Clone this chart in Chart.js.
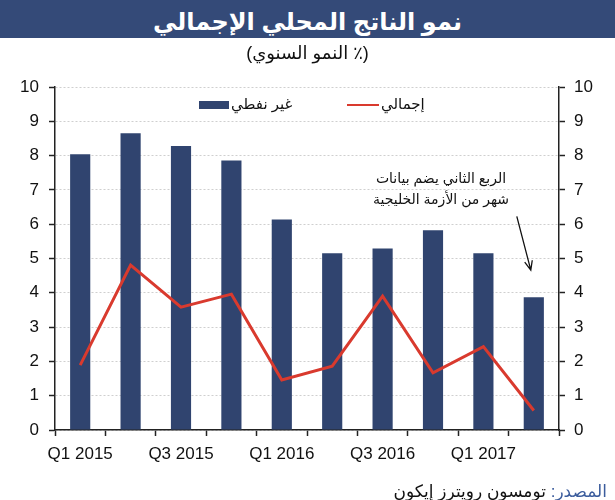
<!DOCTYPE html>
<html>
<head>
<meta charset="utf-8">
<script src="https://cdn.jsdelivr.net/npm/chart.js@4"></script>
<style>
  body { margin: 0; background: #fff; }
  #wrap { position: relative; width: 615px; height: 500px; overflow: hidden; font-family: "Liberation Sans", "DejaVu Sans", sans-serif; }
  #chart { position: absolute; left: 0; top: 0; }
  #title { position: absolute; left: 0; top: 0; width: 615px; height: 38px; background: #344a78; color: #fff;
           font-weight: bold; font-size: 24px; line-height: 44px; text-align: center; }
  #sub { position: absolute; left: 0; top: 42px; width: 615px; text-align: center; font-size: 18px; color: #111; }
  #src { position: absolute; right: 8px; top: 481px; font-size: 17px; color: #111; white-space: nowrap; }
  #src span { color: #3b5c9c; }
</style>
</head>
<body>
<div id="wrap">
  <canvas id="chart" width="615" height="500"></canvas>
  <div id="title" dir="rtl">نمو الناتج المحلي الإجمالي</div>
  <div id="sub" dir="rtl">(٪ النمو السنوي)</div>
  <div id="src" dir="rtl"><span>المصدر:</span> تومسون رويترز إيكون</div>
</div>
<script>
(function () {
  'use strict';

  const quarters = ['Q1 2015', 'Q2 2015', 'Q3 2015', 'Q4 2015', 'Q1 2016',
                    'Q2 2016', 'Q3 2016', 'Q4 2016', 'Q1 2017', 'Q2 2017'];
  const nonOil = [8.04, 8.65, 8.28, 7.86, 6.14, 5.15, 5.29, 5.82, 5.15, 3.87];
  const total = [1.89, 4.81, 3.58, 3.96, 1.46, 1.86, 3.90, 1.67, 2.43, 0.57];
  const yMin = 0, yMax = 10, yStep = 1;
  const nonOilLabel = 'غير نفطي';
  const totalLabel = 'إجمالي';
  const noteLines = ['الربع الثاني يضم بيانات', 'شهر من الأزمة الخليجية'];

  const NAVY = '#30446f';
  const RED = '#d93a2e';
  const AXIS = '#222';
  const FONT = '"Liberation Sans", "DejaVu Sans", sans-serif';

  const overlay = {
    id: 'overlay',
    afterDatasetsDraw(chart) {
      const ctx = chart.ctx, a = chart.chartArea;
      const x = chart.scales.x, y = chart.scales.y;
      ctx.save();
      // legend
      const cx = (a.left + a.right) / 2, ly = a.top + 18;
      ctx.font = '15px ' + FONT;
      ctx.textBaseline = 'middle';
      ctx.textAlign = 'left';
      ctx.fillStyle = NAVY;
      ctx.fillRect(cx - 108, ly - 4, 30, 8);
      ctx.fillStyle = '#111';
      ctx.fillText(nonOilLabel, cx - 76, ly);
      ctx.strokeStyle = RED;
      ctx.lineWidth = 2;
      ctx.beginPath();
      ctx.moveTo(cx + 40, ly); ctx.lineTo(cx + 72, ly);
      ctx.stroke();
      ctx.fillText(totalLabel, cx + 74, ly);

      // note
      ctx.font = '14px ' + FONT;
      ctx.textAlign = 'center';
      const nx = x.getPixelForValue(7) + 8;
      ctx.fillText(noteLines[0], nx, y.getPixelForValue(7.3));
      ctx.fillText(noteLines[1], nx, y.getPixelForValue(6.7));

      // arrow to last bar
      const x0 = x.getPixelForValue(9) - 17, y0 = y.getPixelForValue(6.23);
      const x1 = x.getPixelForValue(9) - 3, y1 = y.getPixelForValue(4.66);
      const ang = Math.atan2(y1 - y0, x1 - x0);
      ctx.strokeStyle = '#111';
      ctx.lineWidth = 1.3;
      ctx.beginPath();
      ctx.moveTo(x0, y0); ctx.lineTo(x1, y1);
      ctx.moveTo(x1 - 10 * Math.cos(ang - 0.4), y1 - 10 * Math.sin(ang - 0.4));
      ctx.lineTo(x1, y1);
      ctx.lineTo(x1 - 10 * Math.cos(ang + 0.4), y1 - 10 * Math.sin(ang + 0.4));
      ctx.stroke();
      ctx.restore();
    }
  };

  const tickFont = { family: FONT, size: 17 };

  new Chart(document.getElementById('chart').getContext('2d'), {
    type: 'bar',
    data: {
      labels: quarters,
      datasets: [
        { type: 'line', label: totalLabel, data: total, borderColor: RED, borderWidth: 3,
          pointRadius: 0, tension: 0, fill: false, order: 0, yAxisID: 'y' },
        { type: 'bar', label: nonOilLabel, data: nonOil, backgroundColor: NAVY,
          barPercentage: 0.4, categoryPercentage: 1, order: 1, yAxisID: 'y' }
      ]
    },
    options: {
      responsive: false,
      animation: false,
      layout: { padding: { top: 87, left: 0, right: 0, bottom: 0 } },
      plugins: { legend: { display: false }, tooltip: { enabled: false }, title: { display: false } },
      scales: {
        x: {
          offset: true,
          grid: { offset: true, drawOnChartArea: false, drawTicks: true, tickLength: 6, tickColor: AXIS, tickWidth: 1.5 },
          border: { color: AXIS, width: 1.5 },
          ticks: { autoSkip: false, maxRotation: 0, color: '#111', font: tickFont, padding: 8,
                   callback: (v, i) => (i % 2 === 0 ? quarters[i] : '') },
          afterFit: s => { s.height = 70; }
        },
        y: {
          position: 'left', min: yMin, max: yMax,
          grid: { color: '#cfcfcf', lineWidth: 1, drawTicks: true, tickLength: 6, tickColor: AXIS, tickWidth: 1.5 },
          border: { color: AXIS, width: 1.5, dash: [2, 2] },
          ticks: { stepSize: yStep, color: '#111', font: tickFont, padding: 10 },
          afterFit: s => { s.width = 55; }
        },
        y2: {
          position: 'right', min: yMin, max: yMax,
          grid: { drawOnChartArea: false, drawTicks: true, tickLength: 6, tickColor: AXIS, tickWidth: 1.5 },
          border: { color: AXIS, width: 1.5 },
          ticks: { stepSize: yStep, color: '#111', font: tickFont, padding: 9 },
          afterFit: s => { s.width = 56; }
        }
      }
    },
    plugins: [overlay]
  });
})();
</script>
</body>
</html>
